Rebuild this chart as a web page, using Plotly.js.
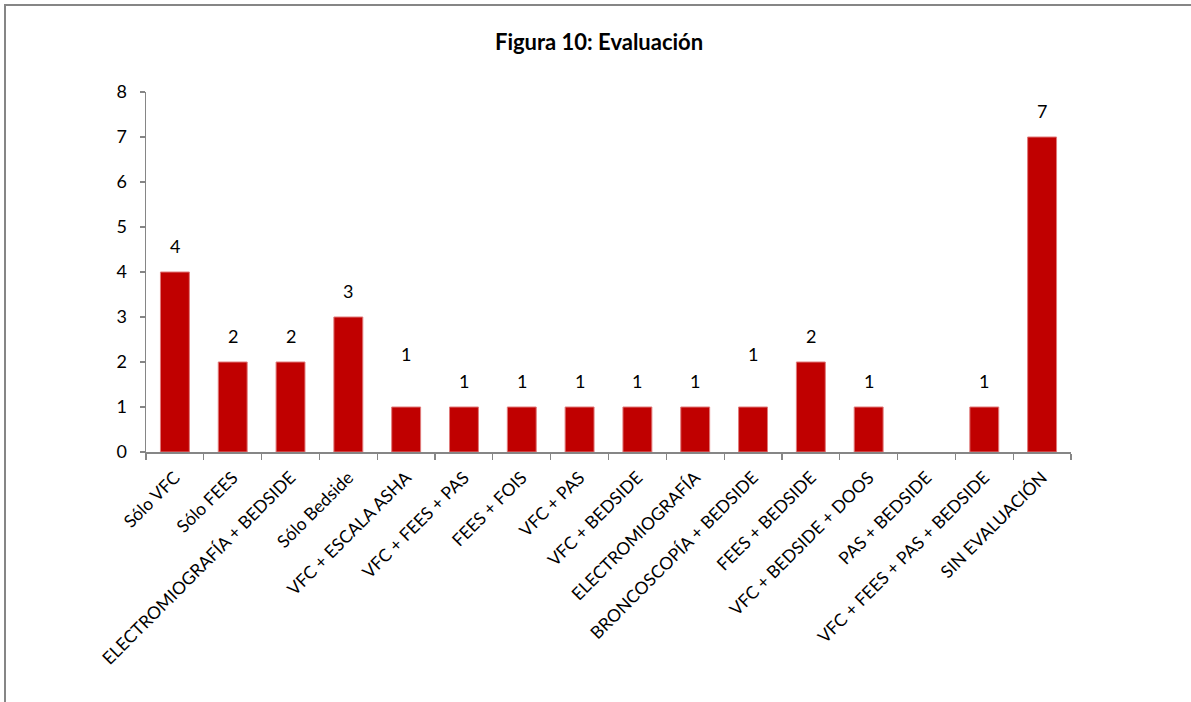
<!DOCTYPE html>
<html>
<head>
<meta charset="utf-8">
<script src="https://cdn.plot.ly/plotly-3.0.1.min.js"></script>
<style>
  html, body { margin: 0; padding: 0; background: #ffffff; }
  #wrap { position: relative; width: 1191px; height: 702px; overflow: hidden; }
  #chart { position: absolute; left: 0; top: 0; width: 1191px; height: 702px; }
  #frame { position: absolute; left: 4px; top: 4px; width: 1300px; height: 800px;
           border-top: 2px solid #868686; border-left: 2px solid #868686; pointer-events: none; }
</style>
</head>
<body>
<div id="wrap">
  <div id="chart"></div>
  <div id="frame"></div>
</div>
<script>
const categories = [
  "Sólo VFC", "Sólo FEES", "ELECTROMIOGRAFÍA + BEDSIDE", "Sólo Bedside",
  "VFC + ESCALA ASHA", "VFC + FEES + PAS", "FEES + FOIS", "VFC + PAS",
  "VFC + BEDSIDE", "ELECTROMIOGRAFÍA", "BRONCOSCOPÍA + BEDSIDE", "FEES + BEDSIDE",
  "VFC + BEDSIDE + DOOS", "PAS + BEDSIDE", "VFC + FEES + PAS + BEDSIDE", "SIN EVALUACIÓN"
];
const values = [4, 2, 2, 3, 1, 1, 1, 1, 1, 1, 1, 2, 1, null, 1, 7];
const yTicks = [0, 1, 2, 3, 4, 5, 6, 7, 8];
const titleText = "Figura 10: Evaluación";

const FONT = "Lato, 'Open Sans', sans-serif";

// In the original, two data labels sit one step higher than the others.
const raisedLabels = new Set(["VFC + ESCALA ASHA", "BRONCOSCOPÍA + BEDSIDE"]);

const trace = {
  type: "bar",
  x: categories,
  y: values,
  marker: { color: "#C00000", line: { color: "#E07a7a", width: 1 } },
  hoverinfo: "x+y"
};

const annotations = [];
categories.forEach((c, i) => {
  if (values[i] !== null && values[i] !== undefined) {
    annotations.push({
      x: c, y: values[i], xref: "x", yref: "y",
      text: String(values[i]), showarrow: false,
      yanchor: "bottom", yshift: raisedLabels.has(c) ? 40 : 13,
      font: { family: FONT, size: 18, color: "#000000" }
    });
  }
});

const layout = {
  width: 1191, height: 702,
  paper_bgcolor: "#ffffff", plot_bgcolor: "#ffffff",
  margin: { l: 146, r: 120, t: 92, b: 250, pad: 0 },
  showlegend: false,
  bargap: 0.5,
  title: {
    text: "<b>" + titleText + "</b>",
    x: 0.503, xanchor: "center", y: 0.94, yanchor: "middle",
    font: { family: FONT, size: 22, color: "#000000" }
  },
  xaxis: {
    type: "category",
    showline: true, linecolor: "#868686", linewidth: 1.5,
    ticks: "outside", tickson: "boundaries", ticklen: 6, tickcolor: "#868686", tickwidth: 1.2,
    tickangle: -45, ticklabelstandoff: 7,
    tickfont: { family: FONT, size: 17.5, color: "#000000" },
    showgrid: false, zeroline: false, fixedrange: true
  },
  yaxis: {
    range: [0, 8],
    tickvals: yTicks, ticktext: yTicks.map(String),
    showline: true, linecolor: "#868686", linewidth: 1.5,
    ticks: "outside", ticklen: 5, tickcolor: "#868686", tickwidth: 1.2,
    ticklabelstandoff: 9,
    tickfont: { family: FONT, size: 18, color: "#000000" },
    showgrid: false, zeroline: false, fixedrange: true
  },
  annotations: annotations
};

Plotly.newPlot("chart", [trace], layout, { displayModeBar: false, staticPlot: true });
</script>
</body>
</html>
